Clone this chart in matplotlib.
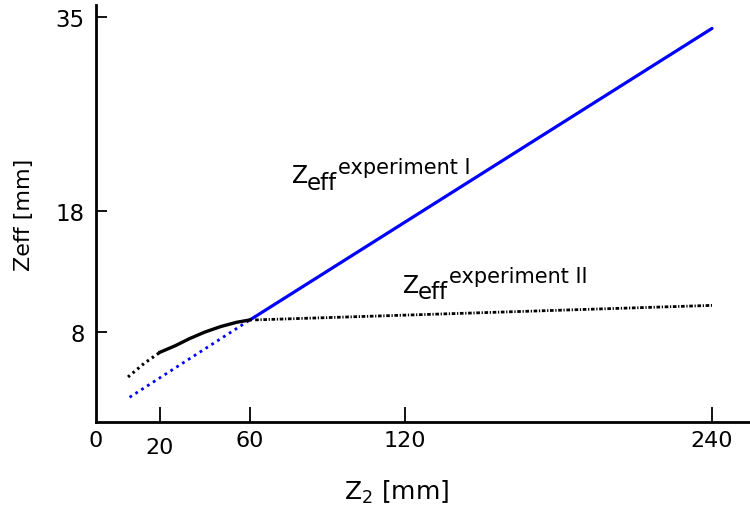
import numpy as np
import matplotlib
matplotlib.use("Agg")
import matplotlib.pyplot as plt

# schematic axis: tick positions are not evenly spaced in the original
x_knots = [0, 20, 60, 120, 240, 255]
x_px = [0, 64, 154, 309, 616, 654]
y_knots = [0, 8, 18, 35, 36.05]
y_px = [0, 90, 211, 405, 417]

# curves
blue_dot_x = [10.5, 60]
blue_dot_y = [2.2, 9.0]
blue_x = [60, 240]
blue_y = [9.0, 34.0]
black_dot_x = [10, 15, 20]
black_dot_y = [4.0, 5.2, 6.2]
black_x = [20, 27, 33, 40, 47, 54, 60]
black_y = [6.2, 6.8, 7.4, 8.0, 8.45, 8.8, 9.0]
dashdot_x = [62, 240]
dashdot_y = [9.0, 10.2]

xticks = [0, 20, 60, 120, 240]
yticks = [8, 18, 35]


def fx(v):
    return np.interp(v, x_knots, x_px)


def ix(v):
    return np.interp(v, x_px, x_knots)


def fy(v):
    return np.interp(v, y_knots, y_px)


def iy(v):
    return np.interp(v, y_px, y_knots)


fig = plt.figure(figsize=(7.5, 5.1), dpi=100)
ax = fig.add_axes([96 / 750, 87 / 510, 654 / 750, 417 / 510])
ax.set_xscale('function', functions=(fx, ix))
ax.set_yscale('function', functions=(fy, iy))

ax.plot(blue_dot_x, blue_dot_y, color='blue', lw=2, ls=(0, (1, 1.5)))
ax.plot(blue_x, blue_y, color='blue', lw=2.3, solid_capstyle='round')
ax.plot(black_dot_x, black_dot_y, color='black', lw=2.2, ls=(0, (0.8, 1.2)))
ax.plot(black_x, black_y, color='black', lw=2.4)
ax.plot(dashdot_x, dashdot_y, color='black', lw=2,
        ls=(0, (1.3, 0.6, 0.45, 0.6)))

ax.set_xlim(0, 255)
ax.set_ylim(0, 36.05)
ax.set_xticks(xticks)
ax.set_xticklabels([str(t) for t in xticks])
ax.set_yticks(yticks)
ax.set_yticklabels([str(t) for t in yticks])
ax.tick_params(axis='x', direction='in', length=10.5, width=1.3,
               labelsize=16, pad=6)
ax.tick_params(axis='y', direction='in', length=8, width=1.3,
               labelsize=16.5, pad=8)
ax.xaxis.get_major_ticks()[0].tick1line.set_visible(False)
ax.xaxis.get_major_ticks()[1].label1.set_y(-0.015)

for s in ['top', 'right']:
    ax.spines[s].set_visible(False)
for s in ['left', 'bottom']:
    ax.spines[s].set_linewidth(2)

ax.set_ylabel('Zeff [mm]', fontsize=16, labelpad=16)
ax.set_xlabel(r'$\mathregular{Z_2}$ [mm]', fontsize=18)
ax.xaxis.set_label_coords(0.46, -0.135)


def zeff_label(x, y, sup):
    ax.text(x, y, 'Z', fontsize=17, ha='left', va='baseline')
    ax.annotate('eff', xy=(x, y), xytext=(10.5, -4.5),
                textcoords='offset points',
                fontsize=16.5, ha='left', va='baseline')
    ax.annotate(sup, xy=(x, y), xytext=(33, 7), textcoords='offset points',
                fontsize=15, ha='left', va='baseline')


zeff_label(76.3, 20.5, 'experiment I')
zeff_label(119.2, 11.3, 'experiment II')

fig.savefig('out.png', dpi=100)
